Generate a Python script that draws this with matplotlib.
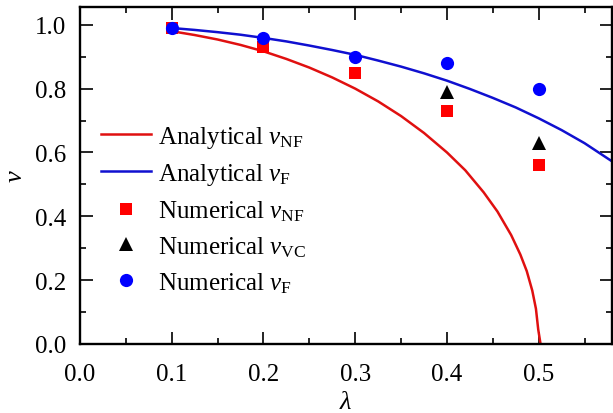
import numpy as np
import matplotlib
matplotlib.use("Agg")
import matplotlib.pyplot as plt
from matplotlib.ticker import MultipleLocator

plt.rcParams['font.family'] = ['Liberation Serif', 'DejaVu Serif']
plt.rcParams['mathtext.fontset'] = 'custom'
plt.rcParams['mathtext.rm'] = 'Liberation Serif'
plt.rcParams['mathtext.it'] = 'Liberation Serif:italic'

# analytical curves
lam_nf = [0.100, 0.125, 0.150, 0.175, 0.200, 0.225, 0.250, 0.275, 0.300, 0.325,
          0.350, 0.375, 0.400, 0.420, 0.440, 0.455, 0.470, 0.480, 0.487, 0.493,
          0.497, 0.4995, 0.502]
v_nf_line = [0.980, 0.968, 0.954, 0.937, 0.917, 0.893, 0.866, 0.835, 0.800, 0.760,
             0.714, 0.661, 0.600, 0.544, 0.475, 0.415, 0.341, 0.280, 0.228, 0.167,
             0.110, 0.045, 0.0]
lam_f = [0.100, 0.125, 0.150, 0.175, 0.200, 0.225, 0.250, 0.275, 0.300, 0.325,
         0.350, 0.375, 0.400, 0.425, 0.450, 0.475, 0.500, 0.525, 0.550, 0.580]
v_f_line = [0.990, 0.984, 0.977, 0.969, 0.959, 0.948, 0.935, 0.921, 0.906, 0.888,
            0.869, 0.848, 0.825, 0.799, 0.771, 0.741, 0.707, 0.670, 0.629, 0.572]

# numerical results
lam_num = [0.1, 0.2, 0.3, 0.4, 0.5]
v_nf_num = [0.99, 0.93, 0.85, 0.73, 0.56]
lam_vc = [0.4, 0.5]
v_vc_num = [0.79, 0.63]
v_f_num = [0.99, 0.96, 0.90, 0.88, 0.80]

fig = plt.figure(figsize=(6.13, 4.14), dpi=100)
ax = fig.add_axes([0.1305, 0.167, 0.868, 0.813])

ax.plot(lam_nf, v_nf_line, color='#e01010', lw=1.8, label=r'Analytical $\mathit{v}_{\mathrm{NF}}$', zorder=2)
ax.plot(lam_f, v_f_line, color='#1010d0', lw=1.8, label=r'Analytical $\mathit{v}_{\mathrm{F}}$', zorder=2)
ax.plot(lam_num, v_nf_num, 's', color='#ff0000', ms=8.5, mew=0,
        label=r'Numerical $\mathit{v}_{\mathrm{NF}}$', zorder=3)
ax.plot(lam_vc, v_vc_num, '^', color='black', ms=10, mew=0,
        label=r'Numerical $\mathit{v}_{\mathrm{VC}}$', zorder=4)
ax.plot(lam_num, v_f_num, 'o', color='#0000ff', ms=9.5, mew=0,
        label=r'Numerical $\mathit{v}_{\mathrm{F}}$', zorder=5)

ax.set_xlim(0, 0.58)
ax.set_ylim(0, 1.055)
ax.xaxis.set_major_locator(MultipleLocator(0.1))
ax.xaxis.set_minor_locator(MultipleLocator(0.05))
ax.yaxis.set_major_locator(MultipleLocator(0.2))
ax.yaxis.set_minor_locator(MultipleLocator(0.1))
ax.tick_params(which='both', direction='in', top=True, right=True, labelsize=18, width=1.2)
ax.tick_params(which='major', length=9)
ax.tick_params(which='minor', length=4.5)
ax.tick_params(axis='x', which='major', pad=14)
ax.tick_params(axis='y', which='major', pad=10)
for s in ax.spines.values():
    s.set_linewidth(1.7)

ax.set_xlabel(r'$\mathit{\lambda}$', fontsize=19, labelpad=4)
ax.set_ylabel(r'$\mathit{v}$', fontsize=19, labelpad=6)

ax.legend(loc='center left', bbox_to_anchor=(0.02, 0.40), frameon=False, fontsize=18,
          handlelength=2.0, handletextpad=0.3, labelspacing=0.45, borderaxespad=0)

fig.savefig('out.png', dpi=100)
